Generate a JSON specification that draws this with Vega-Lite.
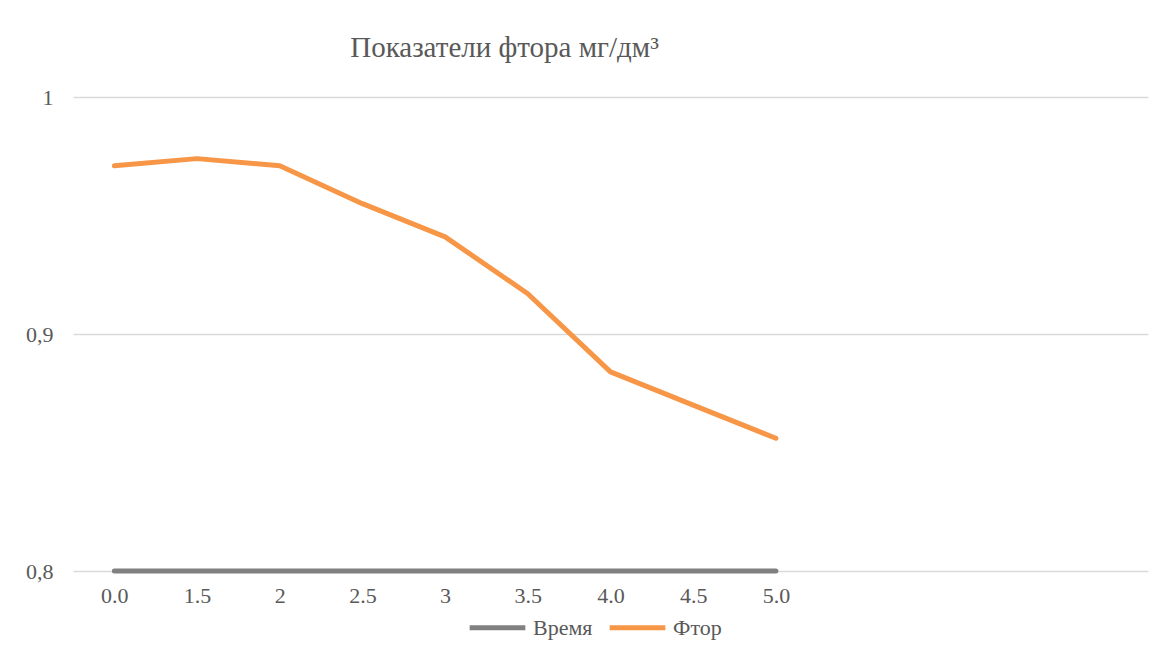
{
  "$schema": "https://vega.github.io/schema/vega-lite/v6.json",
  "autosize": {"type": "none"},
  "width": 1075,
  "height": 474,
  "padding": {"left": 73, "top": 97, "right": 15, "bottom": 83},
  "background": "white",
  "title": {
    "text": "Показатели фтора мг/дм³",
    "font": "Liberation Serif",
    "fontSize": 29,
    "fontWeight": "normal",
    "color": "#595959",
    "anchor": "middle",
    "dx": -106,
    "offset": 23
  },
  "data": {
    "values": [
      {"t": "0.0", "series": "Время", "v": 0.8},
      {"t": "1.5", "series": "Время", "v": 0.8},
      {"t": "2", "series": "Время", "v": 0.8},
      {"t": "2.5", "series": "Время", "v": 0.8},
      {"t": "3", "series": "Время", "v": 0.8},
      {"t": "3.5", "series": "Время", "v": 0.8},
      {"t": "4.0", "series": "Время", "v": 0.8},
      {"t": "4.5", "series": "Время", "v": 0.8},
      {"t": "5.0", "series": "Время", "v": 0.8},
      {"t": "0.0", "series": "Фтор", "v": 0.971},
      {"t": "1.5", "series": "Фтор", "v": 0.974},
      {"t": "2", "series": "Фтор", "v": 0.971},
      {"t": "2.5", "series": "Фтор", "v": 0.955},
      {"t": "3", "series": "Фтор", "v": 0.941},
      {"t": "3.5", "series": "Фтор", "v": 0.917},
      {"t": "4.0", "series": "Фтор", "v": 0.884},
      {"t": "4.5", "series": "Фтор", "v": 0.870},
      {"t": "5.0", "series": "Фтор", "v": 0.856}
    ]
  },
  "mark": {"type": "line", "strokeWidth": 5, "strokeCap": "round", "strokeJoin": "round", "clip": false},
  "encoding": {
    "x": {
      "field": "t",
      "type": "ordinal",
      "sort": null,
      "scale": {"type": "point", "padding": 0.5, "domain": ["0.0", "1.5", "2", "2.5", "3", "3.5", "4.0", "4.5", "5.0", " ", "  ", "   ", "    "]},
      "axis": {
        "title": null,
        "labelAngle": 0,
        "domain": false,
        "ticks": false,
        "grid": false,
        "labelFont": "Liberation Serif",
        "labelFontSize": 22,
        "labelColor": "#595959",
        "labelPadding": 14
      }
    },
    "y": {
      "field": "v",
      "type": "quantitative",
      "scale": {"domain": [0.8, 1], "nice": false, "zero": false},
      "axis": {
        "title": null,
        "values": [0.8, 0.9, 1],
        "labelExpr": "replace(format(datum.value, '.1~f'), '.', ',')",
        "domain": false,
        "ticks": false,
        "grid": true,
        "gridColor": "#d9d9d9",
        "gridWidth": 1.5,
        "labelFont": "Liberation Serif",
        "labelFontSize": 22,
        "labelColor": "#595959",
        "labelPadding": 20
      }
    },
    "color": {
      "field": "series",
      "type": "nominal",
      "scale": {"domain": ["Время", "Фтор"], "range": ["#808080", "#f79646"]},
      "legend": {
        "title": null,
        "orient": "none",
        "legendX": 394,
        "legendY": 500,
        "direction": "horizontal",
        "symbolType": "stroke",
        "symbolSize": 3100,
        "symbolStrokeWidth": 5,
        "labelFont": "Liberation Serif",
        "labelFontSize": 22,
        "labelColor": "#595959",
        "labelOffset": 5,
        "columnPadding": 6
      }
    }
  },
  "config": {"view": {"stroke": null}}
}
